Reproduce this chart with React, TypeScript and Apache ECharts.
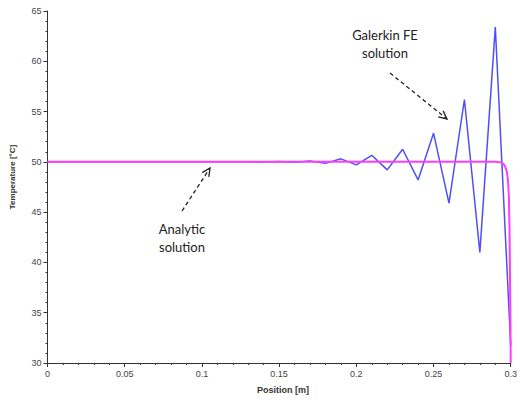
import React, { useEffect, useRef } from "react";
import * as echarts from "echarts";

const feX = [0, 0.01, 0.02, 0.03, 0.04, 0.05, 0.06, 0.07, 0.08, 0.09, 0.1, 0.11, 0.12, 0.13, 0.14, 0.15, 0.16, 0.17, 0.18, 0.19, 0.2, 0.21, 0.22, 0.23, 0.24, 0.25, 0.26, 0.27, 0.28, 0.29, 0.3];
const feT = [50, 50, 50, 50, 50, 50, 50, 50, 50, 50, 50, 50, 50, 50, 49.99, 50.04, 49.95, 50.08, 49.85, 50.3, 49.7, 50.65, 49.2, 51.25, 48.2, 52.85, 45.9, 56.2, 41.0, 63.4, 31.7];

const exX = [0, 0.29, 0.293, 0.2945, 0.2955, 0.2965, 0.2975, 0.2982, 0.2988, 0.2992, 0.2995, 0.2998, 0.3];
const exT = [50, 50, 49.97, 49.9, 49.75, 49.5, 49.0, 48.2, 46.5, 43.5, 39.0, 34.0, 30];

const xTicks = { min: 0, max: 0.3, interval: 0.05 };
const yTicks = { min: 30, max: 65, interval: 5 };

function arrow(x1: number, y1: number, x2: number, y2: number) {
  const dx = x2 - x1, dy = y2 - y1;
  const len = Math.hypot(dx, dy);
  const ux = dx / len, uy = dy / len;
  const hl = 9, ang = Math.PI / 7;
  const ca = Math.cos(ang), sa = Math.sin(ang);
  const w1 = [x2 - hl * (ux * ca - uy * sa), y2 - hl * (uy * ca + ux * sa)];
  const w2 = [x2 - hl * (ux * ca + uy * sa), y2 - hl * (uy * ca - ux * sa)];
  return [
    { type: "line", shape: { x1, y1, x2, y2 }, style: { stroke: "#222", lineWidth: 1.3, lineDash: [4, 3] } },
    { type: "polyline", shape: { points: [w1, [x2, y2], w2] }, style: { stroke: "#222", lineWidth: 1.3, fill: "none" } },
  ];
}

export default function App() {
  const ref = useRef<HTMLDivElement>(null);
  useEffect(() => {
    const chart = echarts.init(ref.current!, undefined, { renderer: "svg" });
    const axisCommon = {
      axisLine: { show: true, onZero: false, lineStyle: { color: "#333", width: 1 } },
      axisTick: { show: true, length: 4, lineStyle: { color: "#333" } },
      minorTick: { show: true, splitNumber: 5, length: 2, lineStyle: { color: "#333" } },
      splitLine: { show: false },
      axisLabel: { color: "#444", fontSize: 9, fontFamily: "Arial, Liberation Sans" },
    };
    chart.setOption({
      animation: false,
      backgroundColor: "#fff",
      grid: { left: 47.5, right: 6.5, top: 11, bottom: 40, containLabel: false },
      xAxis: { type: "value", ...xTicks, ...axisCommon, axisLabel: { ...axisCommon.axisLabel, margin: 6 } },
      yAxis: { type: "value", ...yTicks, ...axisCommon, axisLabel: { ...axisCommon.axisLabel, margin: 6 } },
      series: [
        {
          type: "line",
          data: feX.map((x, i) => [x, feT[i]]),
          symbol: "none",
          lineStyle: { color: "#4f4ff5", width: 1.5 },
          z: 2,
        },
        {
          type: "line",
          data: exX.map((x, i) => [x, exT[i]]),
          symbol: "none",
          smooth: false,
          lineStyle: { color: "#ff3cff", width: 2 },
          z: 3,
        },
      ],
      graphic: [
        { type: "text", x: 283, y: 390, style: { text: "Position [m]", font: "bold 9px Arial, Liberation Sans", fill: "#333", textAlign: "center", textVerticalAlign: "middle" } },
        { type: "text", x: 12, y: 177, rotation: Math.PI / 2, style: { text: "Temperature [°C]", font: "bold 8px Arial, Liberation Sans", fill: "#333", textAlign: "center", textVerticalAlign: "middle" } },
        { type: "text", x: 385, y: 35, style: { text: "Galerkin FE", font: "13px Lato, Noto Sans", fill: "#222", textAlign: "center", textVerticalAlign: "middle" } },
        { type: "text", x: 385, y: 53, style: { text: "solution", font: "13px Lato, Noto Sans", fill: "#222", textAlign: "center", textVerticalAlign: "middle" } },
        { type: "text", x: 182, y: 229, style: { text: "Analytic", font: "13px Lato, Noto Sans", fill: "#222", textAlign: "center", textVerticalAlign: "middle" } },
        { type: "text", x: 182, y: 247, style: { text: "solution", font: "13px Lato, Noto Sans", fill: "#222", textAlign: "center", textVerticalAlign: "middle" } },
        ...arrow(390, 73, 447, 119),
        ...arrow(182, 211, 210, 168),
      ],
    });
    return () => chart.dispose();
  }, []);
  return <div ref={ref} style={{ width: 520, height: 403, position: "absolute", left: 0, top: 0 }} />;
}
